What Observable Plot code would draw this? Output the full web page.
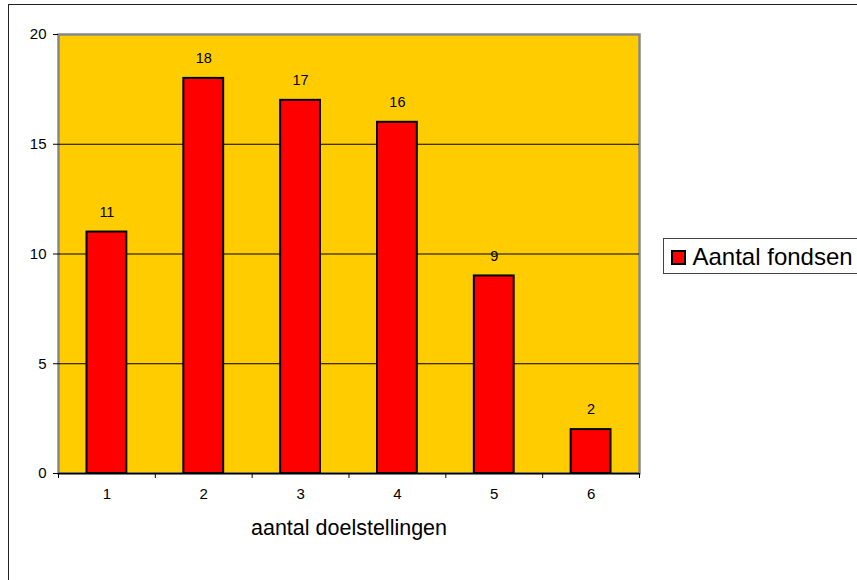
<!DOCTYPE html>
<html>
<head>
<meta charset="utf-8">
<script src="https://cdn.jsdelivr.net/npm/d3@7"></script>
<script src="https://cdn.jsdelivr.net/npm/@observablehq/plot@0.6"></script>
<style>
  body { margin: 0; background: #fff; font-family: "Liberation Sans", Arial, sans-serif; }
  #wrap { position: relative; width: 857px; height: 580px; overflow: hidden; background: #fff; }
  #border { position: absolute; left: 8px; top: 4px; width: 1000px; height: 1000px; border: 1.5px solid #222; box-sizing: border-box; pointer-events: none; }
  #legend { position: absolute; left: 663px; top: 238px; width: 220px; height: 36px; border: 1px solid #444; box-sizing: border-box; background: #fff; }
  #legend .sw { position: absolute; left: 7px; top: 10.5px; width: 15px; height: 15px; background: #FF0000; border: 2px solid #000; box-sizing: border-box; }
  #legend .lb { position: absolute; left: 28.5px; top: 5.5px; font-size: 24px; line-height: 24px; color: #000; white-space: nowrap; }
  #plot { position: absolute; left: 0; top: 0; }
</style>
</head>
<body>
<div id="wrap">
  <div id="plot"></div>
  <div id="border"></div>
  <div id="legend"><div class="sw"></div><div class="lb">Aantal fondsen</div></div>
</div>
<script>
const categories = [1, 2, 3, 4, 5, 6];
const counts = [11, 18, 17, 16, 9, 2];
const yTicks = [0, 5, 10, 15, 20];
const gridValues = [5, 10, 15];
const seriesName = "Aantal fondsen";
const xTitle = "aantal doelstellingen";

const data = categories.map((c, i) => ({cat: c, count: counts[i]}));
const boundaries = [0.5, ...categories.map(c => c + 0.5)];

const chart = Plot.plot({
  width: 857,
  height: 580,
  marginLeft: 58,
  marginRight: 218,
  marginTop: 34,
  marginBottom: 107,
  style: {fontFamily: "'Liberation Sans', Arial, sans-serif", fontSize: "15px", background: "transparent", color: "#000"},
  x: {domain: [0.5, 6.5], label: null},
  y: {domain: [0, 20], label: null},
  marks: [
    Plot.frame({fill: "#FFCC00", stroke: "#888", strokeWidth: 2.5}),
    Plot.ruleY(gridValues, {stroke: "#000", strokeWidth: 1}),
    Plot.rectY(data, {x1: d => d.cat - 0.5, x2: d => d.cat + 0.5, y: "count", insetLeft: 28.5, insetRight: 28.5, fill: "#FF0000", stroke: "#000", strokeWidth: 2}),
    Plot.text(data, {x: "cat", y: "count", text: d => String(d.count), dy: -20, fontSize: 14.5, fill: "#000"}),
    Plot.ruleY([0], {stroke: "#000", strokeWidth: 1.5}),
    Plot.axisY({ticks: yTicks, tickSize: 5, tickPadding: 7, fontSize: 15, label: null, stroke: "#000"}),
    Plot.axisX({ticks: boundaries, tickSize: 5, tickFormat: () => "", label: null, stroke: "#000"}),
    Plot.axisX({ticks: categories, tickSize: 0, tickPadding: 15, fontSize: 15, tickFormat: d => String(d), label: null}),
    Plot.text([xTitle], {frameAnchor: "bottom", dy: 55, fontSize: 21.5, lineAnchor: "middle", text: d => d})
  ]
});
document.getElementById("plot").appendChild(chart);
</script>
</body>
</html>
